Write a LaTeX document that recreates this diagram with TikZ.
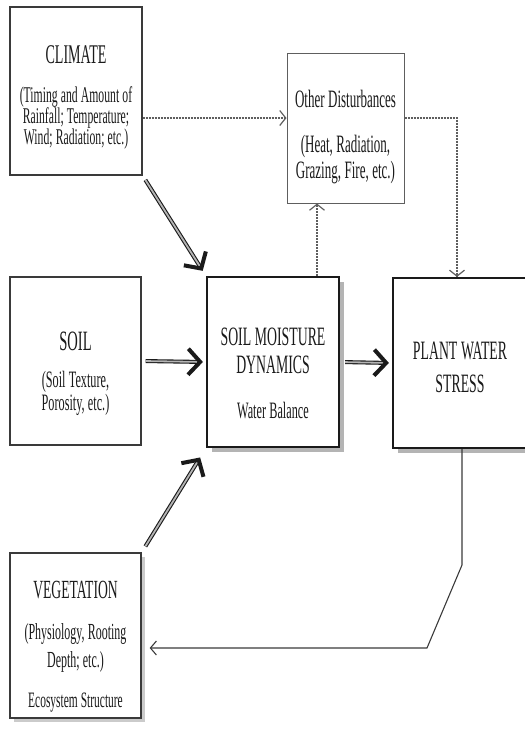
\documentclass[tikz,border=0pt]{standalone}
\usepackage{fontspec}
\setmainfont{Liberation Serif}[FakeStretch=0.52]
\usepackage{xcolor}
\usetikzlibrary{calc,arrows.meta,shadows}
\definecolor{ink}{HTML}{1A1A1A}
\definecolor{frameline}{HTML}{3A3A3A}
\definecolor{light}{HTML}{5E5E5E}
\definecolor{shade}{HTML}{B4B4B4}
% size, line distance; tight word spaces as in the scan
\newcommand{\fsz}[2]{\fontsize{#1}{#2}\selectfont\lineskiplimit=-50pt\lineskip=0pt
  \fontdimen2\font=0.14em\fontdimen3\font=0pt\fontdimen4\font=0pt\relax}
\tikzset{
  frame/.style={draw=frameline, line width=1.4pt, fill=white, minimum width=#1},
  heavy/.style={draw=ink, line width=2.2pt, fill=white,
    drop shadow={shadow xshift=5pt, shadow yshift=-5pt, fill=shade, opacity=1}},
  thinframe/.style={draw=light, line width=1pt, fill=white},
  txt/.style={align=center, text=ink, inner sep=0pt},
  dblarrow/.style={draw=ink, double=shade, double distance=1.8pt, line width=1.1pt,
    -{Straight Barb[length=12pt, width=26pt, line width=4pt]}},
  dotarrow/.style={draw=light, line width=1.4pt, dash pattern=on 2pt off 1pt,
    -{Straight Barb[length=6pt, width=15pt, line width=1.2pt]}},
  feedarrow/.style={draw=frameline, line width=1.1pt,
    -{Straight Barb[length=6pt, width=14pt, line width=1.1pt]}}
}

\begin{document}
\begin{tikzpicture}[x=1pt, y=-1pt]
  \useasboundingbox (0,0) rectangle (525,729);

  % boxes
  \node[frame=132, minimum height=168] (climate) at (76,91) {};
  \node[thinframe, minimum width=117, minimum height=150] (other) at (345.5,128) {};
  \node[frame=131, minimum height=168] (soil) at (75.5,361) {};
  \node[heavy, minimum width=132, minimum height=170] (smd) at (273,362) {};
  \node[heavy, minimum width=134, minimum height=170] (pws) at (460,363) {};
  \node[frame=131, minimum height=165,
    drop shadow={shadow xshift=4pt, shadow yshift=-4pt, fill=shade!70, opacity=1}] (veg) at (75.5,635.5) {};

  % texts
  \node[txt, font=\fsz{22.5}{21}] (climate-t) at ([yshift=-6.3pt]climate.center)
    {{\fsz{27}{21}CLIMATE}\\[17.7pt]
     (Timing and Amount of\\ Rainfall; Temperature;\\ Wind; Radiation; etc.)};
  \node[txt, font=\fsz{25}{26}] (other-t) at ([yshift=-8.9pt]other.center)
    {Other Disturbances\\[18.5pt] (Heat, Radiation,\\ Grazing, Fire, etc.)};
  \node[txt, font=\fsz{23.5}{23}] (soil-t) at ([yshift=-12.7pt]soil.center)
    {{\fsz{28}{23}SOIL}\\[14.4pt] (Soil Texture,\\ Porosity, etc.)};
  \node[txt, font=\fsz{26.5}{28}] (smd-t) at ([yshift=-11.6pt]smd.center)
    {SOIL MOISTURE\\ DYNAMICS\\[17.3pt] {\fsz{23.5}{28}Water Balance}};
  \node[txt, font=\fsz{26.5}{33}] (pws-t) at ([yshift=-4.5pt]pws.center)
    {PLANT WATER\\ STRESS};
  \node[txt, font=\fsz{23}{28}] (veg-t) at ([yshift=-11.2pt]veg.center)
    {{\fsz{26.2}{28}VEGETATION}\\[13pt] (Physiology, Rooting\\ Depth; etc.)\\[11.8pt]
     {\fsz{22}{28}Ecosystem Structure}};

  % main flow
  \draw[dblarrow, shorten <=5pt, shorten >=6pt] (climate.south east) -- (smd.north west);
  \draw[dblarrow, shorten <=4pt, shorten >=3pt] (soil.east) -- (smd.west);
  \draw[dblarrow, shorten <=7pt, shorten >=11pt] (veg.north east) -- (smd.south west);
  \draw[dblarrow, shorten <=5pt, shorten >=3pt] (smd.east) -- (pws.west);

  % disturbances
  \draw[dotarrow] ([yshift=-27pt]climate.east) -- ([yshift=10pt]other.west);
  \draw[dotarrow] ([xshift=44pt]smd.north) -- ([xshift=44pt]smd.north |- other.south);
  \draw[dotarrow] ([yshift=10pt]other.east) -| ([xshift=-3pt]pws.north);

  % feedback to vegetation
  \coordinate (bend1) at (462,565);
  \coordinate (bend2) at (427,648);
  \draw[feedarrow, shorten >=8pt] ([xshift=2pt]pws.south) -- (bend1) -- (bend2) -- (bend2 -| veg.east);
\end{tikzpicture}
\end{document}
